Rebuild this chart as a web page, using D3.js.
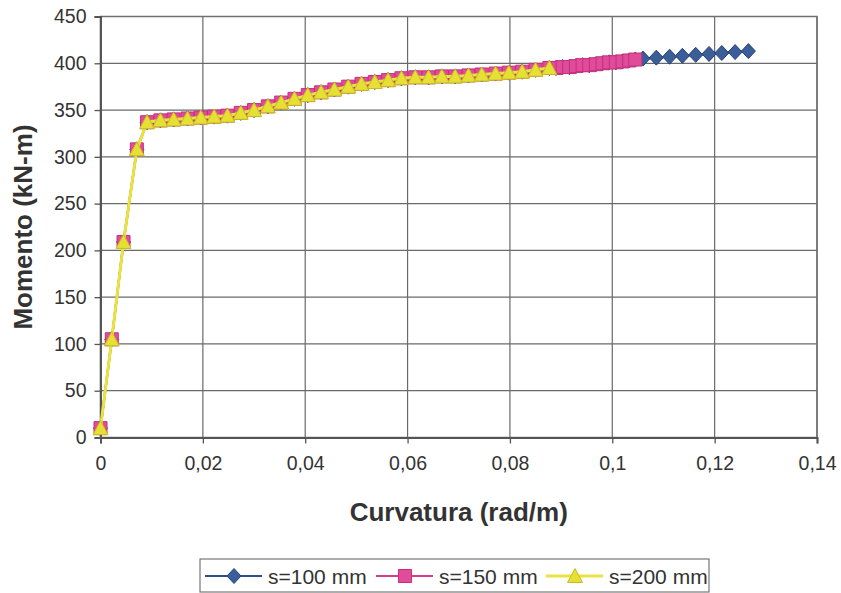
<!DOCTYPE html>
<html><head><meta charset="utf-8">
<script src="https://cdn.jsdelivr.net/npm/d3@7"></script>
<style>
html,body{margin:0;padding:0;background:#fff;}
svg{display:block;font-family:"Liberation Sans",Arial,sans-serif;}
</style></head>
<body><svg id="chart" width="841" height="593"></svg>
<script>
// ---- data ----
const seriesNames = ["s=100 mm", "s=150 mm", "s=200 mm"];
const xTicks = [0, 0.02, 0.04, 0.06, 0.08, 0.1, 0.12, 0.14];
const xTickLabels = ["0", "0,02", "0,04", "0,06", "0,08", "0,1", "0,12", "0,14"];
const yTicks = [0, 50, 100, 150, 200, 250, 300, 350, 400, 450];

// shared part of the three curves
const baseCurv = [0.0000, 0.0022, 0.0045, 0.0071,
  0.0091, 0.0117, 0.0143, 0.0170, 0.0196, 0.0222, 0.0248, 0.0274, 0.0300, 0.0327,
  0.0353, 0.0379, 0.0405, 0.0431, 0.0457, 0.0484, 0.0510, 0.0536, 0.0562, 0.0588,
  0.0615, 0.0641, 0.0667, 0.0693, 0.0719, 0.0745, 0.0772, 0.0798, 0.0824, 0.0850, 0.0877];
const baseMom = [10, 105, 209, 308,
  337, 339, 340, 341, 342, 343, 344, 347, 350, 354,
  358, 362, 366, 369, 372, 375, 378, 380, 382, 384,
  385, 385, 386, 386, 387, 388, 389, 390, 391, 393, 395];
// s=150 continues further
const tail150Curv = [0.0890, 0.0903, 0.0916, 0.0929, 0.0942, 0.0955, 0.0968, 0.0981, 0.0994, 0.1007, 0.1020, 0.1033, 0.1045];
const tail150Mom  = [395, 396, 396, 397, 398, 398, 399, 400, 401, 401, 402, 403, 404];
// s=100 continues furthest
const tail100Curv = [0.1060, 0.1086, 0.1112, 0.1137, 0.1163, 0.1189, 0.1214, 0.1240, 0.1266];
const tail100Mom  = [405, 406, 407, 408, 409, 410, 411, 412, 413];

const curv200 = baseCurv, mom200 = baseMom;
const curv150 = baseCurv.concat(tail150Curv), mom150 = baseMom.concat(tail150Mom);
const curv100 = curv150.concat(tail100Curv), mom100 = mom150.concat(tail100Mom);

// ---- layout ----
const svg = d3.select("#chart");
const L = 100.5, R = 817, T = 16.5, B = 437.5;
const x = d3.scaleLinear().domain([0, 0.14]).range([L, R]);
const y = d3.scaleLinear().domain([0, 450]).range([B, T]);

const styles = [
  {line: "#2f4f8c", fill: "#3b5e98", stroke: "#22427c", shape: "diamond"},
  {line: "#d93c8e", fill: "#e04c9a", stroke: "#c4307c", shape: "square"},
  {line: "#e8e243", fill: "#e6df34", stroke: "#c8bd22", shape: "triangle"}
];
const series = [
  {name: seriesNames[0], c: curv100, m: mom100, st: styles[0]},
  {name: seriesNames[1], c: curv150, m: mom150, st: styles[1]},
  {name: seriesNames[2], c: curv200, m: mom200, st: styles[2]}
];

// gridlines
const g = svg.append("g");
g.selectAll(".gx").data(xTicks).join("line")
  .attr("x1", d => x(d)).attr("x2", d => x(d)).attr("y1", T).attr("y2", B)
  .attr("stroke", "#6a6a6a").attr("stroke-width", 1.2);
g.selectAll(".gy").data(yTicks).join("line")
  .attr("x1", L).attr("x2", R).attr("y1", d => y(d)).attr("y2", d => y(d))
  .attr("stroke", "#6a6a6a").attr("stroke-width", 1.2);
g.append("rect").attr("x", L).attr("y", T).attr("width", R - L).attr("height", B - T)
  .attr("fill", "none").attr("stroke", "#707070").attr("stroke-width", 1.5);

// axes
const xAxis = svg.append("g").attr("transform", `translate(0,${B})`)
  .call(d3.axisBottom(x).tickValues(xTicks).tickFormat((d, i) => xTickLabels[i]).tickSize(6).tickPadding(13));
const yAxis = svg.append("g").attr("transform", `translate(${L},0)`)
  .call(d3.axisLeft(y).tickValues(yTicks).tickSize(6).tickPadding(8));
[xAxis, yAxis].forEach(a => {
  a.select(".domain").attr("stroke", "#555").attr("stroke-width", 2);
  a.selectAll(".tick line").attr("stroke", "#555").attr("stroke-width", 1.3);
  a.selectAll(".tick text").attr("fill", "#333").style("font-size", "19.5px")
    .style("font-family", "'Liberation Sans', Arial, sans-serif");
});

// marker path generator
function shapePath(shape) {
  if (shape === "diamond") return "M0,-7.5L7,0L0,7.5L-7,0Z";
  if (shape === "square") return "M-6.5,-6.5L6.5,-6.5L6.5,6.5L-6.5,6.5Z";
  return "M0,-7.5L7.5,6.5L-7.5,6.5Z";
}

const line = d3.line().x(d => x(d[0])).y(d => y(d[1]));
series.forEach(s => {
  const pts = s.c.map((c, i) => [c, s.m[i]]);
  const sg = svg.append("g");
  sg.append("path").datum(pts).attr("d", line).attr("fill", "none")
    .attr("stroke", s.st.line).attr("stroke-width", s.st.shape === "triangle" ? 3 : 2.2);
  sg.selectAll("path.mk").data(pts).join("path").attr("class", "mk")
    .attr("transform", d => `translate(${x(d[0])},${y(d[1])})`)
    .attr("d", shapePath(s.st.shape))
    .attr("fill", s.st.fill).attr("stroke", s.st.stroke).attr("stroke-width", 1);
});

// axis titles
svg.append("text").attr("x", (L + R) / 2).attr("y", 521).attr("text-anchor", "middle")
  .style("font-weight", "bold").style("font-size", "26px").attr("fill", "#333")
  .text("Curvatura (rad/m)");
svg.append("text").attr("transform", `translate(32,${(T + B) / 2}) rotate(-90)`)
  .attr("text-anchor", "middle").style("font-weight", "bold").style("font-size", "26px").attr("fill", "#333")
  .text("Momento (kN-m)");

// legend
const lg = svg.append("g");
lg.append("rect").attr("x", 200).attr("y", 559).attr("width", 509).attr("height", 33)
  .attr("fill", "#fff").attr("stroke", "#777").attr("stroke-width", 1.2);
const legX = [205, 376, 546];
series.forEach((s, i) => {
  const x0 = legX[i], yc = 576;
  lg.append("line").attr("x1", x0).attr("x2", x0 + 57).attr("y1", yc).attr("y2", yc)
    .attr("stroke", s.st.line).attr("stroke-width", s.st.shape === "triangle" ? 3 : 2.2);
  lg.append("path").attr("transform", `translate(${x0 + 29},${yc})`).attr("d", shapePath(s.st.shape))
    .attr("fill", s.st.fill).attr("stroke", s.st.stroke);
  lg.append("text").attr("x", x0 + 63).attr("y", yc + 7.5).style("font-size", "21px").attr("fill", "#333")
    .text(s.name);
});
</script></body></html>
